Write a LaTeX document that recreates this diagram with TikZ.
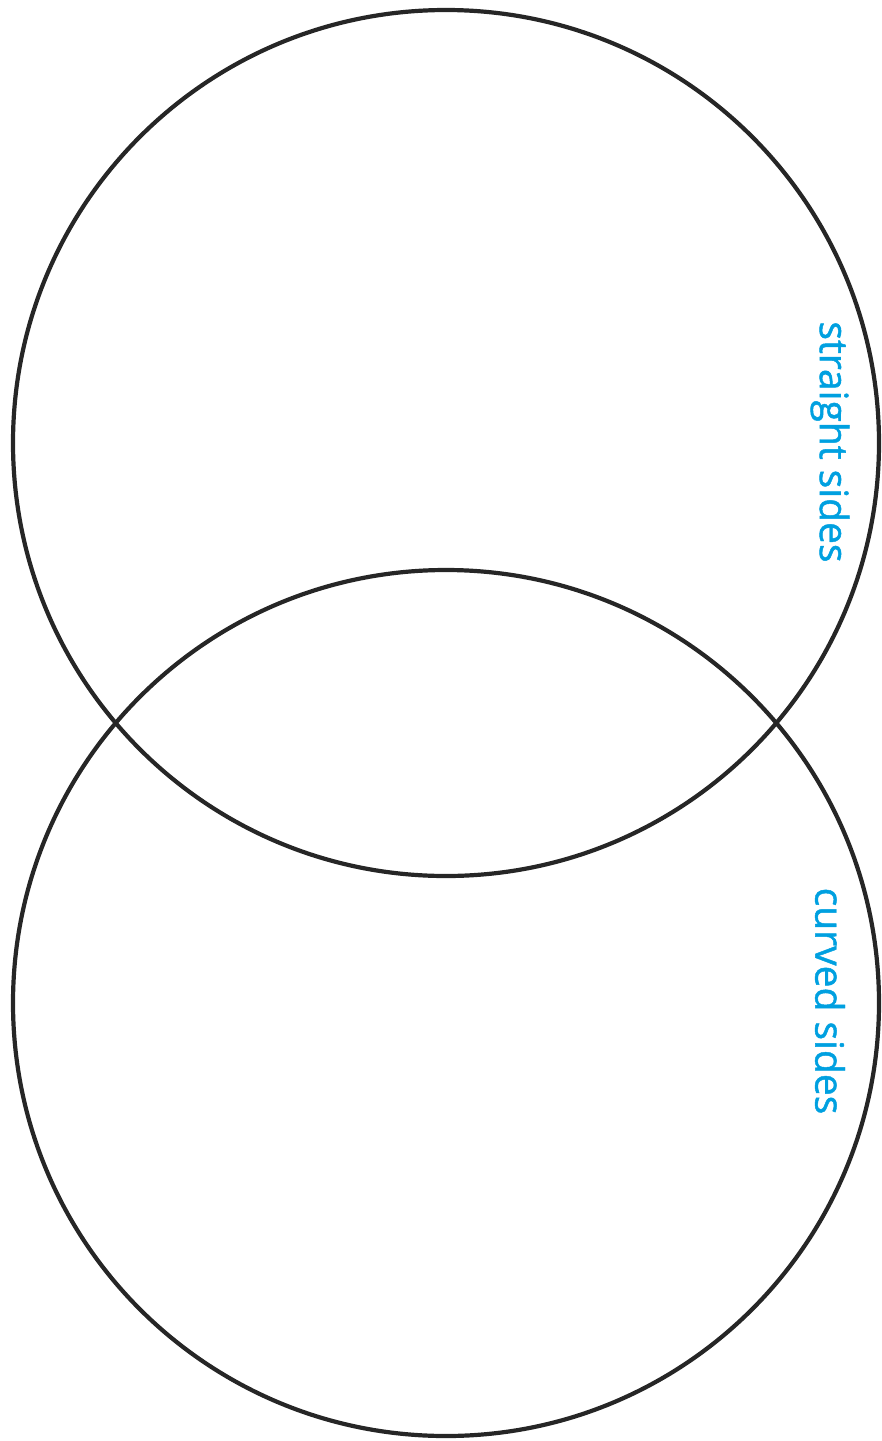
\documentclass[tikz,border=0pt]{standalone}
\usepackage{fontspec}
\setmainfont{Open Sans}
\newfontfamily\labelfont[FakeBold=1.2]{Open Sans}
\usepackage{xcolor}
\usetikzlibrary{positioning}
\definecolor{setblue}{RGB}{0,160,224}

\begin{document}
\begin{tikzpicture}[
    x=1pt, y=-1pt,
    ring/.style={circle, draw=black!85, line width=4.2pt, minimum size=866pt, inner sep=0pt, outer sep=0pt},
    setlabel/.style={text=setblue, font=\labelfont\fontsize{39}{42}\selectfont, rotate=-90, inner sep=0pt},
    ]
\useasboundingbox (0,0) rectangle (882,1441);

\node[ring] (straight) at (446,443) {};
\node[ring] (curved) at (446,1003) {};

% Add set labels
\node[setlabel] (straightlbl) at (830,442) {straight sides};
\node[setlabel] (curvedlbl) at (830,1001) {curved sides};

\end{tikzpicture}
\end{document}
